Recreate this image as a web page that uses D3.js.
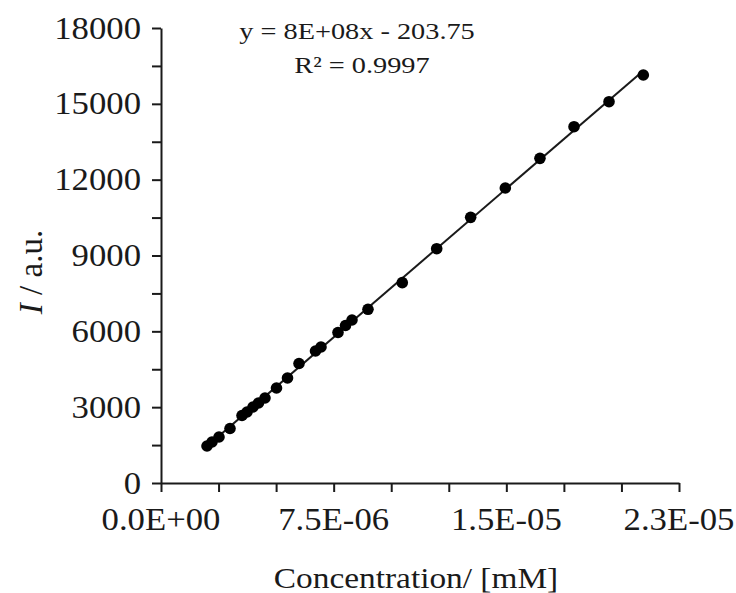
<!DOCTYPE html>
<html><head><meta charset="utf-8">
<script src="https://cdn.jsdelivr.net/npm/d3@7/dist/d3.min.js"></script>
<style>body{margin:0;background:#fff}svg{display:block}text{font-family:"Liberation Serif","Times New Roman",serif;fill:#1a1a1a}</style>
</head><body>
<svg id="chart" width="736" height="593"></svg>
<script>
// ---- data ----
const concentration = [1.998e-6, 2.215e-6, 2.519e-6, 2.997e-6, 3.518e-6, 3.736e-6, 3.996e-6, 4.235e-6,
  4.517e-6, 5.017e-6, 5.495e-6, 5.994e-6, 6.711e-6, 6.950e-6, 7.688e-6, 8.014e-6, 8.296e-6, 8.991e-6,
  1.048e-5, 1.1975e-5, 1.345e-5, 1.4956e-5, 1.646e-5, 1.794e-5, 1.946e-5, 2.095e-5];
const intensity = [1464, 1622, 1820, 2156, 2670, 2809, 3007, 3165,
  3363, 3758, 4154, 4727, 5222, 5380, 5954, 6231, 6448, 6872,
  7925, 9270, 10510, 11670, 12844, 14096, 15085, 16141];
const xTickValues = [0, 2.5e-6, 5e-6, 7.5e-6, 1e-5, 1.25e-5, 1.5e-5, 1.75e-5, 2e-5, 2.25e-5];
const xLabelValues = [0, 7.5e-6, 1.5e-5, 2.25e-5];
const xLabels = ["0.0E+00", "7.5E-06", "1.5E-05", "2.3E-05"];
const yTickValues = [0, 1500, 3000, 4500, 6000, 7500, 9000, 10500, 12000, 13500, 15000, 16500, 18000];
const yLabelValues = [0, 3000, 6000, 9000, 12000, 15000, 18000];
const yLabels = ["0", "3000", "6000", "9000", "12000", "15000", "18000"];
const equationText = "y = 8E+08x - 203.75";
const r2Text = "R\u00B2 = 0.9997";
const xTitle = "Concentration/ [mM]";

// ---- layout ----
const svg = d3.select("#chart");
const x = d3.scaleLinear().domain([0, 2.25e-5]).range([161, 679]);
const y = d3.scaleLinear().domain([0, 18000]).range([483, 28]);
const ink = "#1a1a1a";

// axes
const xAxis = svg.append("g").attr("transform", `translate(0,${y(0)})`)
  .call(d3.axisBottom(x).tickValues(xTickValues).tickSize(9).tickSizeOuter(0).tickFormat(""));
const yAxis = svg.append("g").attr("transform", `translate(${x(0)},0)`)
  .call(d3.axisLeft(y).tickValues(yTickValues).tickSize(9).tickSizeOuter(0).tickFormat(""));
[xAxis, yAxis].forEach(a => {
  a.selectAll("path,line").attr("stroke", ink).attr("stroke-width", 2);
});

function stretchedText(px, py, txt, size, anchor, sx) {
  const g = svg.append("g").attr("transform", `translate(${px},${py}) scale(${sx},1)`);
  return g.append("text").attr("text-anchor", anchor).attr("font-size", size).text(txt);
}
// tick labels
xLabelValues.forEach((v, i) => stretchedText(x(v), 530, xLabels[i], 31, "middle", 1.12));
yLabelValues.forEach((v, i) => stretchedText(141, y(v) + 10.5, yLabels[i], 31, "end", 1.12));

// axis titles
stretchedText(416, 588, xTitle, 29, "middle", 1.15);
const yt = svg.append("g").attr("transform", `translate(42,272) rotate(-90)`)
  .append("text").attr("text-anchor", "middle").attr("font-size", 33);
yt.append("tspan").attr("font-style", "italic").text("I");
yt.append("tspan").text(" / a.u.");

// trendline (least squares from the data)
const mx = d3.mean(concentration), my = d3.mean(intensity);
const slope = d3.sum(concentration, (c, i) => (c - mx) * (intensity[i] - my)) /
  d3.sum(concentration, c => (c - mx) * (c - mx));
const intercept = my - slope * mx;
const x0 = d3.min(concentration), x1 = d3.max(concentration);
svg.append("line")
  .attr("x1", x(x0)).attr("y1", y(slope * x0 + intercept))
  .attr("x2", x(x1)).attr("y2", y(slope * x1 + intercept))
  .attr("stroke", ink).attr("stroke-width", 2);

// points
svg.append("g").selectAll("circle").data(concentration).join("circle")
  .attr("cx", d => x(d)).attr("cy", (d, i) => y(intensity[i]))
  .attr("r", 5.8).attr("fill", "#000");

// equation
stretchedText(357, 39, equationText, 24, "middle", 1.18);
stretchedText(362, 73, r2Text, 24, "middle", 1.18);
</script>
</body></html>
